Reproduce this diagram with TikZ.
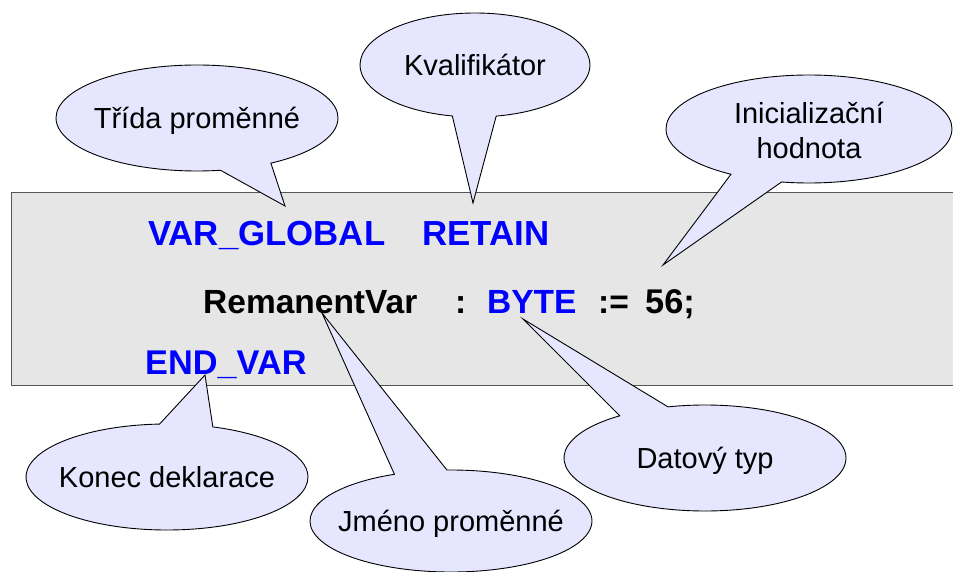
\documentclass[tikz,border=0pt]{standalone}
\usepackage{fontspec}
\setmainfont{Liberation Sans}
\usetikzlibrary{shapes.callouts}
\definecolor{boxfill}{RGB}{230,230,230}
\definecolor{boxline}{RGB}{85,85,85}
\definecolor{callfill}{RGB}{230,230,255}
\definecolor{kwblue}{RGB}{0,0,255}
\newcommand{\bubtext}[1]{\raisebox{-10.5pt}[0pt][0pt]{\makebox[0pt]{#1}}}
\newcommand{\bubtwo}[2]{\raisebox{-11.6pt}[0pt][0pt]{\makebox[0pt]{\begin{tabular}{@{}c@{}}#1\\[2pt]#2\end{tabular}}}}
\tikzset{
  bubble/.style={ellipse callout, draw=black, line width=0.9pt, fill=callfill,
    minimum width=282pt, minimum height=106pt, inner sep=0pt,
    font=\fontsize{29}{33}\selectfont, callout pointer arc=22},
  code/.style={anchor=base west, inner sep=0pt, font=\fontsize{33.5}{36}\selectfont\bfseries},
  kw/.style={code, text=kwblue},
}
\begin{document}
\begin{tikzpicture}[x=1pt,y=-1pt]
\useasboundingbox (0,0) rectangle (953,572);
\clip (0,0) rectangle (953,572);
\node[draw=boxline, line width=1.3pt, fill=boxfill, anchor=north west, minimum width=960pt, minimum height=193pt, inner sep=0pt] (box) at (11,192) {};
\node[kw, font=\fontsize{34.8}{36}\selectfont\bfseries] (vg) at (148,246) {VAR\_GLOBAL};
\node[kw, font=\fontsize{34.8}{36}\selectfont\bfseries] (ret) at (422,246) {RETAIN};
\node[code] (rv) at (203,313) {RemanentVar};
\node[code] (colon) at (455,313) {:};
\node[kw] (byte) at (487,313) {BYTE};
\node[code] (asg) at (598,313) {:=};
\node[code, font=\fontsize{34.3}{36}\selectfont\bfseries] (val) at (645,313) {56;};
\node[kw, font=\fontsize{34.3}{36}\selectfont\bfseries] (ev) at (145,374) {END\_VAR};
\coordinate (t1) at (285,206);
\coordinate (t2) at (473,203);
\coordinate (t3) at (663,265);
\coordinate (t4) at (205,375);
\coordinate (t5) at (322,313);
\coordinate (t6) at (523,319);
\node[bubble, callout absolute pointer=(t1)] (c1) at (197,118) {\bubtext{Třída proměnné}};
\node[bubble, callout absolute pointer=(t2), minimum width=230pt, minimum height=104pt] (c2) at (475,65) {\bubtext{Kvalifikátor}};
\node[bubble, callout absolute pointer=(t3), minimum width=286pt, minimum height=108pt] (c3) at (809,129) {\bubtwo{Inicializační}{hodnota}};
\node[bubble, callout absolute pointer=(t4)] (c4) at (167,477) {\bubtext{Konec deklarace}};
\node[bubble, callout absolute pointer=(t5), minimum height=102pt] (c5) at (451,521) {\bubtext{Jméno proměnné}};
\node[bubble, callout absolute pointer=(t6)] (c6) at (705,458) {\bubtext{Datový typ}};
\end{tikzpicture}
\end{document}
